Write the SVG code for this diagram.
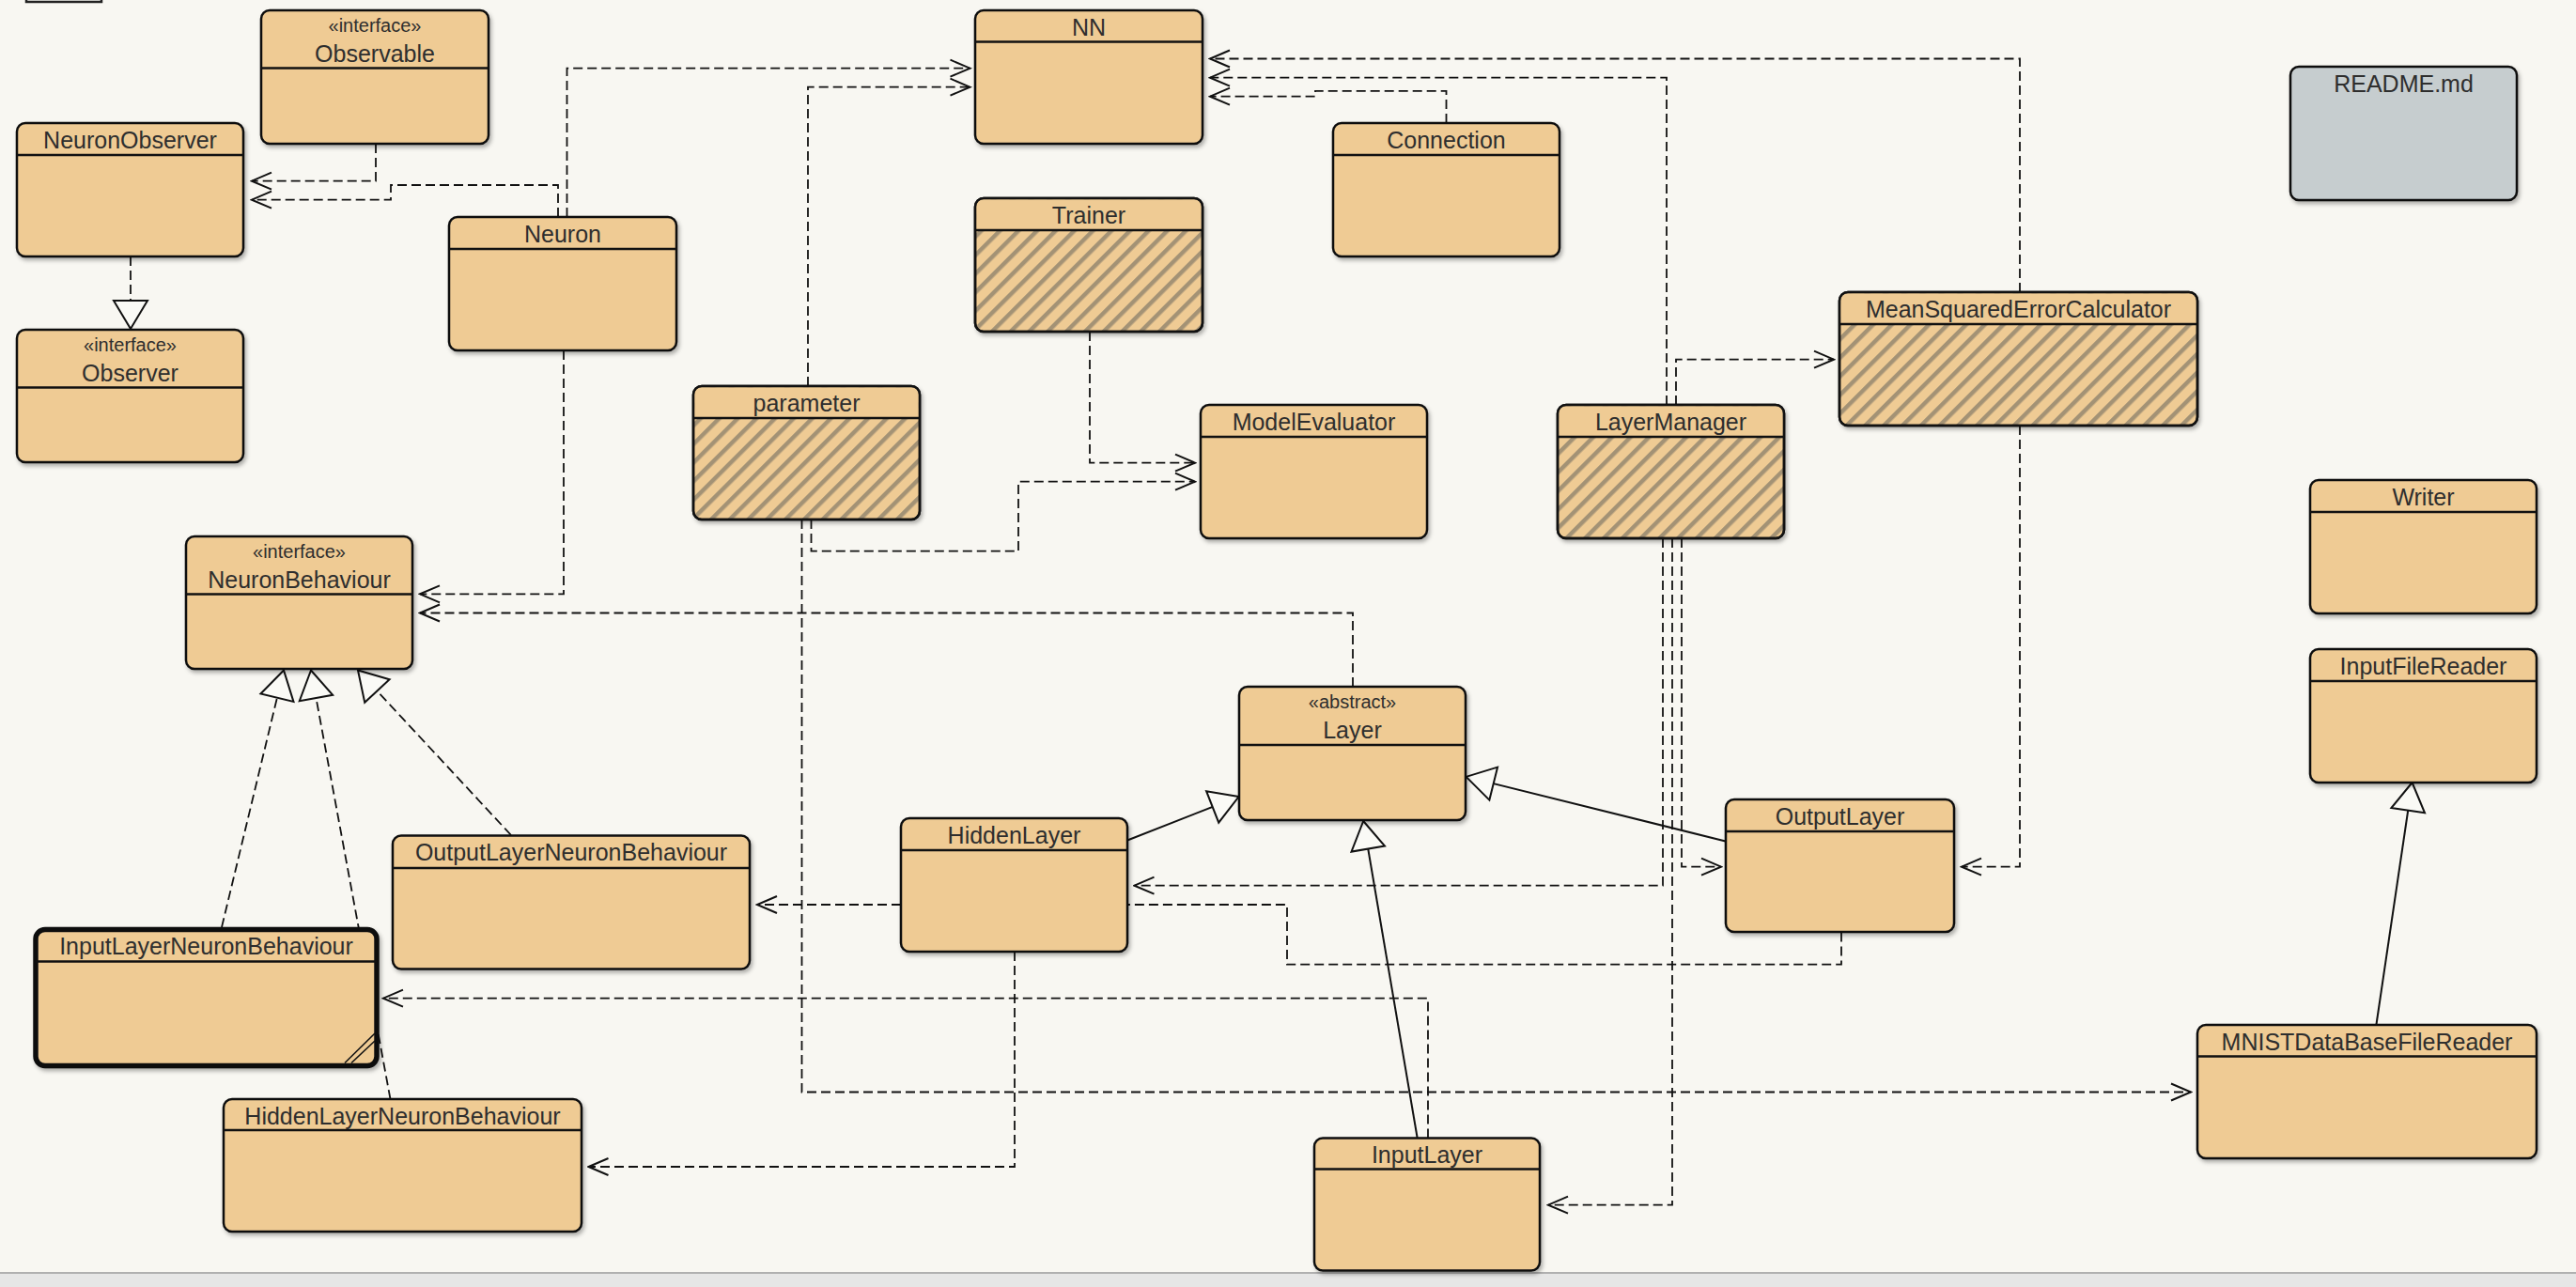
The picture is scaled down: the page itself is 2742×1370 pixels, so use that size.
<svg xmlns="http://www.w3.org/2000/svg" width="2742" height="1370" viewBox="0 0 2742 1370">
<style>
.box{fill:#efcb94;stroke:#111;stroke-width:2.5;filter:url(#sh)}
.hbox{fill:url(#hatch);stroke:#111;stroke-width:2.5;filter:url(#sh)}
.outline{fill:none;stroke:#111;stroke-width:2.5}
.hdr{fill:#efcb94;stroke:none}
.div{stroke:#111;stroke-width:2.5}
.name{font-family:"Liberation Sans",Arial,sans-serif;font-size:25px;fill:#2e2e2e;text-anchor:middle}
.st{font-family:"Liberation Sans",Arial,sans-serif;font-size:20px;fill:#2e2e2e;text-anchor:middle}
.dep{fill:none;stroke:#111;stroke-width:1.8;stroke-dasharray:10 5;marker-end:url(#open)}
.real{fill:none;stroke:#111;stroke-width:1.8;stroke-dasharray:10 5;marker-end:url(#tri)}
.gen{fill:none;stroke:#111;stroke-width:2;marker-end:url(#tri)}
.plain{fill:none;stroke:#111;stroke-width:1.8;stroke-dasharray:10 5}
</style>
<defs>
<filter id="sh" x="-10%" y="-10%" width="125%" height="130%">
<feDropShadow dx="2" dy="3" stdDeviation="2" flood-color="#000" flood-opacity="0.3"/>
</filter>
<pattern id="hatch" patternUnits="userSpaceOnUse" width="14" height="14" patternTransform="rotate(45)">
<rect width="14" height="14" fill="#efcb94"/>
<rect x="0" y="0" width="4.5" height="14" fill="#a39275"/>
</pattern>
<marker id="open" markerUnits="userSpaceOnUse" viewBox="-25 -12 27 24" markerWidth="27" markerHeight="24" refX="0" refY="0" orient="auto">
<path d="M-21,-9 L0,0 L-21,9" fill="none" stroke="#111" stroke-width="2"/>
</marker>
<marker id="tri" markerUnits="userSpaceOnUse" viewBox="-33 -21 36 42" markerWidth="36" markerHeight="42" refX="0" refY="0" orient="auto">
<path d="M0,0 L-30,-18 L-30,18 Z" fill="#fafaf6" stroke="#111" stroke-width="2"/>
</marker>
</defs>
<rect x="0" y="0" width="2742" height="1370" fill="#f8f7f2"/>
<rect x="0" y="1355" width="2742" height="15" fill="#e6e6e6"/>
<line x1="0" y1="1355" x2="2742" y2="1355" stroke="#b0b0b0" stroke-width="2"/>
<rect x="28" y="-30" width="80" height="32" fill="#f8f7f2" stroke="#222" stroke-width="2.5"/>

<g id="connectors">
<path class="dep" d="M400,153 V192.7 H268"/>
<path class="dep" d="M594,231 V197 H416 V212.7 H268"/>
<path class="dep" d="M603.5,231 V72.7 H1032.5"/>
<path class="dep" d="M860,411 V92.7 H1032.5"/>
<path class="dep" d="M2150,311 V62.5 H1288"/>
<path class="dep" d="M1774,431 V82.7 H1288"/>
<path class="dep" d="M1539.5,131 V96.8 H1400 V102.7 H1288"/>
<path class="dep" d="M1784,431 V382.7 H1952"/>
<path class="dep" d="M1160,353 V492.7 H1272"/>
<path class="dep" d="M863.5,553 V586.7 H1084 V512.7 H1272"/>
<path class="dep" d="M600,373 V632.3 H447"/>
<path class="dep" d="M1440,731 V652.5 H447"/>
<path class="dep" d="M853.5,553 V1162.5 H2332"/>
<path class="dep" d="M959,963 H806"/>
<path class="dep" d="M1520,1211.5 V1062.7 H408"/>
<path class="dep" d="M1080,1013 V1242 H626.5"/>
<path class="dep" d="M1770,573 V942.7 H1207.5"/>
<path class="dep" d="M1780,573 V1282.7 H1648"/>
<path class="dep" d="M1790,573 V922.7 H1832"/>
<path class="dep" d="M2150,453 V922.7 H2088"/>
<path class="plain" d="M1960,992.5 V1026.7 H1370 V963 H1200"/>
<path class="real" d="M139,273 V350"/>
<path class="real" d="M236,987 L302,713.5"/>
<path class="real" d="M415.5,1170 L331,713.5"/>
<path class="real" d="M544,889 L381,713.5"/>
<path class="gen" d="M1199.4,894.7 L1318.6,848"/>
<path class="gen" d="M1837.7,895.7 L1560.6,826.9"/>
<path class="gen" d="M1508.7,1211.5 L1451.2,874"/>
<path class="gen" d="M2529.4,1091 L2567.6,833"/>
</g>

<g id="Observable">
<rect class="box" x="278" y="11" width="242" height="142" rx="9"/>
<line class="div" x1="278" y1="72.5" x2="520" y2="72.5"/>
<text class="st" x="399" y="33.5">«interface»</text>
<text class="name" x="399" y="66">Observable</text>
</g>
<g id="NeuronObserver">
<rect class="box" x="18" y="131" width="241" height="142" rx="9"/>
<line class="div" x1="18" y1="165" x2="259" y2="165"/>
<text class="name" x="138.5" y="157.5">NeuronObserver</text>
</g>
<g id="Observer">
<rect class="box" x="18" y="351" width="241" height="141" rx="9"/>
<line class="div" x1="18" y1="412.5" x2="259" y2="412.5"/>
<text class="st" x="138.5" y="373.5">«interface»</text>
<text class="name" x="138.5" y="406">Observer</text>
</g>
<g id="Neuron">
<rect class="box" x="478" y="231" width="242" height="142" rx="9"/>
<line class="div" x1="478" y1="265" x2="720" y2="265"/>
<text class="name" x="599" y="257.5">Neuron</text>
</g>
<g id="NN">
<rect class="box" x="1038" y="11" width="242" height="142" rx="9"/>
<line class="div" x1="1038" y1="44.5" x2="1280" y2="44.5"/>
<text class="name" x="1159" y="37.5">NN</text>
</g>
<g id="Connection">
<rect class="box" x="1419" y="131" width="241" height="142" rx="9"/>
<line class="div" x1="1419" y1="165" x2="1660" y2="165"/>
<text class="name" x="1539.5" y="157.5">Connection</text>
</g>
<g id="Trainer">
<rect class="hbox" x="1038" y="211" width="242" height="142" rx="9"/>
<path class="hdr" d="M1039.2,245 V220 Q1039.2,212.2 1047,212.2 H1271 Q1278.8,212.2 1278.8,220 V245 Z"/>
<rect class="outline" x="1038" y="211" width="242" height="142" rx="9"/>
<line class="div" x1="1038" y1="245" x2="1280" y2="245"/>
<text class="name" x="1159" y="237.5">Trainer</text>
</g>
<g id="parameter">
<rect class="hbox" x="738" y="411" width="241" height="142" rx="9"/>
<path class="hdr" d="M739.2,445 V420 Q739.2,412.2 747,412.2 H970 Q977.8,412.2 977.8,420 V445 Z"/>
<rect class="outline" x="738" y="411" width="241" height="142" rx="9"/>
<line class="div" x1="738" y1="445" x2="979" y2="445"/>
<text class="name" x="858.5" y="437.5">parameter</text>
</g>
<g id="ModelEvaluator">
<rect class="box" x="1278" y="431" width="241" height="142" rx="9"/>
<line class="div" x1="1278" y1="465" x2="1519" y2="465"/>
<text class="name" x="1398.5" y="457.5">ModelEvaluator</text>
</g>
<g id="LayerManager">
<rect class="hbox" x="1658" y="431" width="241" height="142" rx="9"/>
<path class="hdr" d="M1659.2,465 V440 Q1659.2,432.2 1667,432.2 H1890 Q1897.8,432.2 1897.8,440 V465 Z"/>
<rect class="outline" x="1658" y="431" width="241" height="142" rx="9"/>
<line class="div" x1="1658" y1="465" x2="1899" y2="465"/>
<text class="name" x="1778.5" y="457.5">LayerManager</text>
</g>
<g id="MeanSquaredErrorCalculator">
<rect class="hbox" x="1958" y="311" width="381" height="142" rx="9"/>
<path class="hdr" d="M1959.2,345 V320 Q1959.2,312.2 1967,312.2 H2330 Q2337.8,312.2 2337.8,320 V345 Z"/>
<rect class="outline" x="1958" y="311" width="381" height="142" rx="9"/>
<line class="div" x1="1958" y1="345" x2="2339" y2="345"/>
<text class="name" x="2148.5" y="337.5">MeanSquaredErrorCalculator</text>
</g>
<g id="README">
<rect class="box" x="2438" y="71" width="241" height="142" rx="9" style="fill:#c6cdcf"/>
<text class="name" x="2558.5" y="97.5">README.md</text>
</g>
<g id="Writer">
<rect class="box" x="2459" y="511" width="241" height="142" rx="9"/>
<line class="div" x1="2459" y1="545" x2="2700" y2="545"/>
<text class="name" x="2579.5" y="537.5">Writer</text>
</g>
<g id="InputFileReader">
<rect class="box" x="2459" y="691" width="241" height="142" rx="9"/>
<line class="div" x1="2459" y1="725" x2="2700" y2="725"/>
<text class="name" x="2579.5" y="717.5">InputFileReader</text>
</g>
<g id="NeuronBehaviour">
<rect class="box" x="198" y="571" width="241" height="141" rx="9"/>
<line class="div" x1="198" y1="632.5" x2="439" y2="632.5"/>
<text class="st" x="318.5" y="593.5">«interface»</text>
<text class="name" x="318.5" y="626">NeuronBehaviour</text>
</g>
<g id="Layer">
<rect class="box" x="1319" y="731" width="241" height="142" rx="9"/>
<line class="div" x1="1319" y1="793" x2="1560" y2="793"/>
<text class="st" x="1439.5" y="753.5">«abstract»</text>
<text class="name" x="1439.5" y="786">Layer</text>
</g>
<g id="HiddenLayer">
<rect class="box" x="959" y="871" width="241" height="142" rx="9"/>
<line class="div" x1="959" y1="905" x2="1200" y2="905"/>
<text class="name" x="1079.5" y="897.5">HiddenLayer</text>
</g>
<g id="OutputLayer">
<rect class="box" x="1837" y="851" width="243" height="141" rx="9"/>
<line class="div" x1="1837" y1="885" x2="2080" y2="885"/>
<text class="name" x="1958.5" y="877.5">OutputLayer</text>
</g>
<g id="OutputLayerNeuronBehaviour">
<rect class="box" x="418" y="889.5" width="380" height="142" rx="9"/>
<line class="div" x1="418" y1="924" x2="798" y2="924"/>
<text class="name" x="608" y="916">OutputLayerNeuronBehaviour</text>
</g>
<g id="InputLayerNeuronBehaviour">
<rect class="box" x="38" y="989.5" width="363" height="145" rx="10" style="stroke-width:5.5"/>
<line class="div" x1="38" y1="1023.5" x2="401" y2="1023.5"/>
<line x1="367" y1="1131.5" x2="399" y2="1100" stroke="#111" stroke-width="1.6"/>
<line x1="374" y1="1131.5" x2="399" y2="1108" stroke="#111" stroke-width="1.6"/>
<text class="name" x="219.5" y="1016">InputLayerNeuronBehaviour</text>
</g>
<g id="HiddenLayerNeuronBehaviour">
<rect class="box" x="238" y="1170" width="381" height="141" rx="9"/>
<line class="div" x1="238" y1="1203" x2="619" y2="1203"/>
<text class="name" x="428.5" y="1196.5">HiddenLayerNeuronBehaviour</text>
</g>
<g id="InputLayer">
<rect class="box" x="1399" y="1211.5" width="240" height="141" rx="9"/>
<line class="div" x1="1399" y1="1244.5" x2="1639" y2="1244.5"/>
<text class="name" x="1519" y="1238">InputLayer</text>
</g>
<g id="MNISTDataBaseFileReader">
<rect class="box" x="2339" y="1091" width="361" height="142" rx="9"/>
<line class="div" x1="2339" y1="1124.5" x2="2700" y2="1124.5"/>
<text class="name" x="2519.5" y="1117.5">MNISTDataBaseFileReader</text>
</g>
</svg>
